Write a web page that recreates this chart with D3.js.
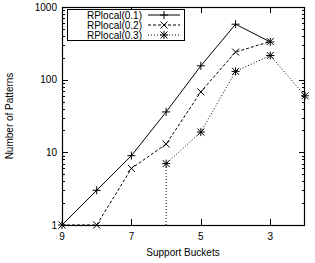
<!DOCTYPE html>
<html>
<head>
<meta charset="utf-8">
<script src="https://cdn.jsdelivr.net/npm/d3@7"></script>
<style>
  body { margin: 0; background: #fff; }
  svg { display: block; font-family: "Liberation Sans", Arial, sans-serif; }
</style>
</head>
<body>
<svg id="svg" width="315" height="263"></svg>
<script>
// Data
const buckets1 = [9, 8, 7, 6, 5, 4, 3];
const local01 = [1, 3, 9, 36, 155, 580, 330];
const buckets2 = [9, 8, 7, 6, 5, 4, 3];
const local02 = [1, 1, 6, 13, 68, 240, 335];
const buckets3 = [6, 5, 4, 3, 2];
const local03 = [7, 19, 130, 215, 60];
const xTicks = [9, 7, 5, 3];
const yTicks = [1, 10, 100, 1000];
const names = ['RPlocal(0.1)', 'RPlocal(0.2)', 'RPlocal(0.3)'];

const svg = d3.select('#svg');
const m = { l: 62, r: 305, t: 7, b: 225 };

const x = d3.scaleLinear().domain([9, 2]).range([m.l, m.r]);
const y = d3.scaleLog().domain([1, 1000]).range([m.b, m.t]);

svg.append('defs').append('clipPath').attr('id', 'clip')
  .append('rect').attr('x', m.l).attr('y', m.t)
  .attr('width', m.r - m.l).attr('height', m.b - m.t);

// Ticks (inward, mirrored)
const gTicks = svg.append('g').attr('stroke', '#000').attr('stroke-width', 1);
const minor = [];
for (let d = 1; d < 1000; d *= 10) for (let k = 2; k <= 9; k++) minor.push(d * k);
minor.forEach((v) => {
  const yy = Math.round(y(v)) + 0.5;
  gTicks.append('line').attr('x1', m.l).attr('x2', m.l + 3).attr('y1', yy).attr('y2', yy);
  gTicks.append('line').attr('x1', m.r).attr('x2', m.r - 3).attr('y1', yy).attr('y2', yy);
});
yTicks.forEach((v) => {
  const yy = Math.round(y(v)) + 0.5;
  gTicks.append('line').attr('x1', m.l).attr('x2', m.l + 6).attr('y1', yy).attr('y2', yy);
  gTicks.append('line').attr('x1', m.r).attr('x2', m.r - 6).attr('y1', yy).attr('y2', yy);
  svg.append('text').attr('x', 57).attr('y', y(v)).attr('dy', '0.35em')
    .attr('text-anchor', 'end').attr('font-size', 10).text(v);
});
xTicks.forEach((v) => {
  const xx = Math.round(x(v)) + 0.5;
  gTicks.append('line').attr('x1', xx).attr('x2', xx).attr('y1', m.b).attr('y2', m.b - 6);
  gTicks.append('line').attr('x1', xx).attr('x2', xx).attr('y1', m.t).attr('y2', m.t + 6);
  svg.append('text').attr('x', x(v)).attr('y', 240)
    .attr('text-anchor', 'middle').attr('font-size', 10).text(v);
});

// Frame
svg.append('rect').attr('x', m.l + 0.5).attr('y', m.t + 0.5)
  .attr('width', m.r - m.l - 1).attr('height', m.b - m.t)
  .attr('fill', 'none').attr('stroke', '#000').attr('stroke-width', 1.2);

// Axis labels
svg.append('text').attr('x', 183).attr('y', 256).attr('text-anchor', 'middle')
  .attr('font-size', 10).text('Support Buckets');
svg.append('text').attr('transform', 'translate(13,116) rotate(-90)')
  .attr('text-anchor', 'middle').attr('font-size', 10).text('Number of Patterns');

// Markers
function plus(g, cx, cy) {
  g.append('path').attr('d', `M${cx - 4},${cy}H${cx + 4}M${cx},${cy - 4}V${cy + 4}`)
    .attr('stroke', '#000').attr('stroke-width', 1);
}
function cross(g, cx, cy) {
  g.append('path').attr('d', `M${cx - 3.5},${cy - 3.5}L${cx + 3.5},${cy + 3.5}M${cx - 3.5},${cy + 3.5}L${cx + 3.5},${cy - 3.5}`)
    .attr('stroke', '#000').attr('stroke-width', 1);
}
function star(g, cx, cy) { plus(g, cx, cy); cross(g, cx, cy); }

const series = [
  { xs: buckets1, ys: local01, dash: null, mark: plus },
  { xs: buckets2, ys: local02, dash: '3,2', mark: cross },
  { xs: buckets3, ys: local03, dash: '1,2', mark: star, drop: true },
];

const line = d3.line().x((d) => x(d[0])).y((d) => y(d[1]));
const gPlot = svg.append('g').attr('clip-path', 'url(#clip)');

series.forEach((s) => {
  const pts = s.xs.map((b, i) => [b, s.ys[i]]);
  let d = line(pts);
  // series enters from below the log axis (value below 1)
  if (s.drop) d = `M${x(pts[0][0])},${m.b}L` + d.slice(1);
  gPlot.append('path').attr('d', d).attr('fill', 'none')
    .attr('stroke', '#000').attr('stroke-width', 1)
    .attr('stroke-dasharray', s.dash);
  const gm = svg.append('g');
  pts.forEach((p) => s.mark(gm, x(p[0]), y(p[1])));
});

// Legend
const lg = svg.append('g');
lg.append('rect').attr('x', 67.5).attr('y', 9.5).attr('width', 117).attr('height', 31)
  .attr('fill', '#fff').attr('stroke', '#000').attr('stroke-width', 1);
series.forEach((s, i) => {
  const yy = 15 + i * 10;
  lg.append('text').attr('x', 142).attr('y', yy).attr('dy', '0.35em')
    .attr('text-anchor', 'end').attr('font-size', 10).text(names[i]);
  lg.append('line').attr('x1', 148).attr('x2', 180).attr('y1', yy).attr('y2', yy)
    .attr('stroke', '#000').attr('stroke-width', 1).attr('stroke-dasharray', s.dash);
  s.mark(lg, 164, yy);
});
</script>
</body>
</html>
